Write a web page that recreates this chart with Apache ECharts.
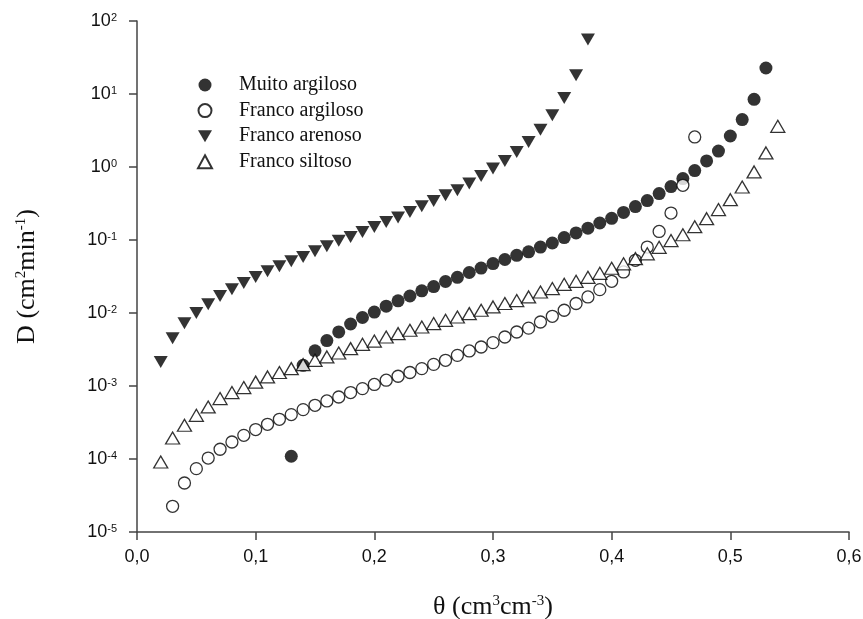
<!DOCTYPE html>
<html>
<head>
<meta charset="utf-8">
<script src="https://cdn.jsdelivr.net/npm/echarts@6/dist/echarts.min.js"></script>
<style>
  html, body { margin: 0; padding: 0; background: #fff; }
  #chart_id { width: 863px; height: 619px; }
</style>
</head>
<body>
<div id="chart_id"></div>
<script>
// theta (cm3 cm-3) and D (cm2 min-1)
const thetaMuito = [0.13, 0.14, 0.15, 0.16, 0.17, 0.18, 0.19, 0.20, 0.21, 0.22, 0.23, 0.24, 0.25, 0.26, 0.27, 0.28, 0.29, 0.30, 0.31, 0.32, 0.33, 0.34, 0.35, 0.36, 0.37, 0.38, 0.39, 0.40, 0.41, 0.42, 0.43, 0.44, 0.45, 0.46, 0.47, 0.48, 0.49, 0.50, 0.51, 0.52, 0.53];
const dMuito = [0.000109, 0.00192, 0.00303, 0.00419, 0.0055, 0.00707, 0.00867, 0.0103, 0.0124, 0.0147, 0.0171, 0.0201, 0.0230, 0.0270, 0.0308, 0.0359, 0.0412, 0.0475, 0.0541, 0.0617, 0.0689, 0.080, 0.091, 0.108, 0.125, 0.145, 0.171, 0.198, 0.239, 0.287, 0.347, 0.432, 0.539, 0.694, 0.893, 1.21, 1.65, 2.66, 4.46, 8.46, 22.7];

const thetaArgiloso = [0.03, 0.04, 0.05, 0.06, 0.07, 0.08, 0.09, 0.10, 0.11, 0.12, 0.13, 0.14, 0.15, 0.16, 0.17, 0.18, 0.19, 0.20, 0.21, 0.22, 0.23, 0.24, 0.25, 0.26, 0.27, 0.28, 0.29, 0.30, 0.31, 0.32, 0.33, 0.34, 0.35, 0.36, 0.37, 0.38, 0.39, 0.40, 0.41, 0.42, 0.43, 0.44, 0.45, 0.46, 0.47];
const dArgiloso = [0.0000225, 0.0000469, 0.0000738, 0.000103, 0.000136, 0.000171, 0.000211, 0.000253, 0.000299, 0.00035, 0.000406, 0.000475, 0.000544, 0.000624, 0.000707, 0.000813, 0.000921, 0.00105, 0.0012, 0.00136, 0.00153, 0.00173, 0.00198, 0.00225, 0.00263, 0.00302, 0.00342, 0.00393, 0.00469, 0.00549, 0.00621, 0.00753, 0.00901, 0.0109, 0.0135, 0.0166, 0.0209, 0.0272, 0.0365, 0.0527, 0.080, 0.131, 0.234, 0.561, 2.58];

const thetaArenoso = [0.02, 0.03, 0.04, 0.05, 0.06, 0.07, 0.08, 0.09, 0.10, 0.11, 0.12, 0.13, 0.14, 0.15, 0.16, 0.17, 0.18, 0.19, 0.20, 0.21, 0.22, 0.23, 0.24, 0.25, 0.26, 0.27, 0.28, 0.29, 0.30, 0.31, 0.32, 0.33, 0.34, 0.35, 0.36, 0.37, 0.38];
const dArenoso = [0.00213, 0.0045, 0.00722, 0.0100, 0.01315, 0.0171, 0.0211, 0.0258, 0.0311, 0.0372, 0.0436, 0.0511, 0.0585, 0.070, 0.082, 0.098, 0.110, 0.129, 0.151, 0.177, 0.203, 0.242, 0.290, 0.342, 0.409, 0.480, 0.593, 0.753, 0.951, 1.21, 1.60, 2.20, 3.25, 5.10, 8.8, 18.0, 55.6];

const thetaSiltoso = [0.02, 0.03, 0.04, 0.05, 0.06, 0.07, 0.08, 0.09, 0.10, 0.11, 0.12, 0.13, 0.14, 0.15, 0.16, 0.17, 0.18, 0.19, 0.20, 0.21, 0.22, 0.23, 0.24, 0.25, 0.26, 0.27, 0.28, 0.29, 0.30, 0.31, 0.32, 0.33, 0.34, 0.35, 0.36, 0.37, 0.38, 0.39, 0.40, 0.41, 0.42, 0.43, 0.44, 0.45, 0.46, 0.47, 0.48, 0.49, 0.50, 0.51, 0.52, 0.53, 0.54];
const dSiltoso = [0.000091, 0.000194, 0.00029, 0.000397, 0.000516, 0.000672, 0.000812, 0.000951, 0.00113, 0.00133, 0.00153, 0.00173, 0.00196, 0.00225, 0.0025, 0.00283, 0.00325, 0.00372, 0.00413, 0.00469, 0.00522, 0.0058, 0.00643, 0.00716, 0.00794, 0.00881, 0.00981, 0.0109, 0.0121, 0.0135, 0.0148, 0.0166, 0.0194, 0.0216, 0.0247, 0.0272, 0.0308, 0.0350, 0.0410, 0.0472, 0.0556, 0.0647, 0.0794, 0.0982, 0.118, 0.152, 0.196, 0.261, 0.357, 0.532, 0.855, 1.56, 3.61];

const seriesNames = ['Muito argiloso', 'Franco argiloso', 'Franco arenoso', 'Franco siltoso'];
const xTickLabels = ['0,0', '0,1', '0,2', '0,3', '0,4', '0,5', '0,6'];

function pairs(xs, ys) {
  return xs.map((x, i) => [x, ys[i]]);
}

const serif = 'Liberation Serif';
const sans = 'Liberation Sans';
const ink = '#111';
const axisInk = '#444';

const myChart = echarts.init(document.getElementById('chart_id'));
const option = {
  animation: false,
  backgroundColor: '#fff',
  grid: {
    left: 137,
    right: 14,
    top: 21,
    bottom: 87,
    outerBoundsMode: 'none',
  },
  legend: {
    orient: 'vertical',
    left: 197,
    top: 75,
    padding: 0,
    itemWidth: 14,
    itemHeight: 13,
    itemGap: 5.6,
    data: [
      { name: seriesNames[0] },
      { name: seriesNames[1] },
      { name: seriesNames[2], icon: 'path://M0,0L14,0L7,12Z' },
      { name: seriesNames[3] },
    ],
    textStyle: {
      fontFamily: serif,
      fontSize: 20,
      lineHeight: 16,
      color: ink,
      padding: [0, 0, 0, 22],
    },
  },
  xAxis: {
    type: 'value',
    min: 0,
    max: 0.6,
    interval: 0.1,
    name: 'θ (cm{sup|3}cm{sup|-3})',
    nameLocation: 'middle',
    nameGap: 62,
    nameTextStyle: {
      fontFamily: serif,
      fontSize: 26,
      color: ink,
      rich: {
        sup: { fontFamily: serif, fontSize: 15, padding: [0, 0, 12, 0], color: ink },
      },
    },
    splitLine: { show: false },
    axisLine: { lineStyle: { color: axisInk, width: 1.5 } },
    axisTick: { length: 8, lineStyle: { color: axisInk, width: 1.5 } },
    axisLabel: {
      margin: 16,
      fontFamily: sans,
      fontSize: 18,
      color: ink,
      formatter: (value) => xTickLabels[Math.round(value * 10)],
    },
  },
  yAxis: {
    type: 'log',
    logBase: 10,
    min: 0.00001,
    max: 100,
    name: 'D (cm{sup|2}min{sup|-1})',
    nameLocation: 'middle',
    nameRotate: 90,
    nameGap: 96,
    nameTextStyle: {
      fontFamily: serif,
      fontSize: 26,
      color: ink,
      rich: {
        sup: { fontFamily: serif, fontSize: 15, padding: [0, 0, 12, 0], color: ink },
      },
    },
    splitLine: { show: false },
    minorTick: { show: false },
    axisLine: { lineStyle: { color: axisInk, width: 1.5 } },
    axisTick: { length: 8, lineStyle: { color: axisInk, width: 1.5 } },
    axisLabel: {
      margin: 20,
      fontFamily: sans,
      fontSize: 18,
      color: ink,
      formatter: (value) => {
        const e = Math.round(Math.log10(value));
        return '{b|10}{s|' + e + '}';
      },
      rich: {
        b: { fontFamily: sans, fontSize: 18, color: ink },
        s: { fontFamily: sans, fontSize: 11, color: ink, padding: [0, 0, 7, 0] },
      },
    },
  },
  series: [
    {
      name: seriesNames[0],
      type: 'scatter',
      symbol: 'circle',
      symbolSize: 13,
      itemStyle: { color: '#000' },
      data: pairs(thetaMuito, dMuito),
    },
    {
      name: seriesNames[1],
      type: 'scatter',
      symbol: 'circle',
      symbolSize: 12,
      itemStyle: { color: '#fff', borderColor: '#000', borderWidth: 1.3 },
      data: pairs(thetaArgiloso, dArgiloso),
    },
    {
      name: seriesNames[2],
      type: 'scatter',
      symbol: 'triangle',
      symbolRotate: 180,
      symbolSize: [14, 12],
      itemStyle: { color: '#000' },
      data: pairs(thetaArenoso, dArenoso),
    },
    {
      name: seriesNames[3],
      type: 'scatter',
      symbol: 'triangle',
      symbolSize: [14, 12],
      itemStyle: { color: '#fff', borderColor: '#000', borderWidth: 1.3 },
      data: pairs(thetaSiltoso, dSiltoso),
    },
  ],
};
myChart.setOption(option);
window.onresize = myChart.resize;
</script>
</body>
</html>
